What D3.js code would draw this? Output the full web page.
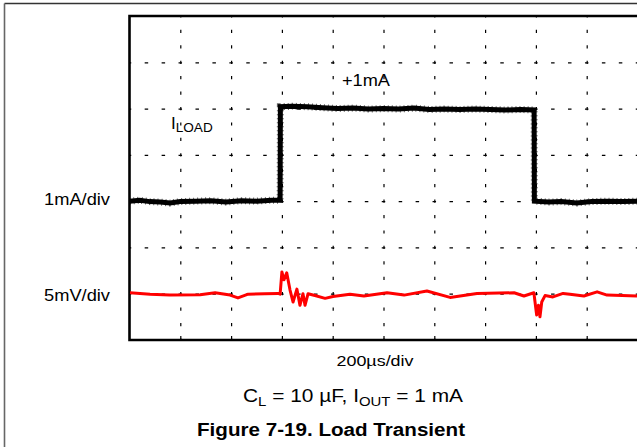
<!DOCTYPE html>
<html>
<head>
	<meta charset="utf-8">
	<title>Load Transient</title>
	<script src="https://d3js.org/d3.v7.min.js"></script>
	<style>
		body {
		    margin: 0;
		    background: #fff;
		    font-family: "Liberation Sans", Arial, sans-serif;
		}
		.grid line {
		    stroke: #000;
		    stroke-width: 1.2;
		}
		.grid path { display: none; }
	</style>
</head>
<body>
<script>
	// time axis, 200us/div, 10 divisions
	var timeTicks = [0, 200, 400, 600, 800, 1000, 1200, 1400, 1600, 1800, 2000];
	var divRows = [0, 1, 2, 3, 4, 5, 6, 7];

	// I_LOAD trace (us, mA step 0 -> +1mA)
	var loadTime = [0, 40, 80, 120, 160, 200, 260, 320, 380, 440, 500, 560, 593,
		594, 640, 700, 760, 820, 880, 940, 1000, 1060, 1120, 1180, 1240, 1300, 1360, 1420, 1480, 1540, 1593,
		1594, 1650, 1700, 1760, 1820, 1880, 1940, 2000];
	var loadValue = [0, 0.01, -0.005, -0.01, -0.02, -0.005, 0, 0.005, -0.01, 0.005, 0, 0.01, 0.01,
		1.02, 1.025, 1.02, 1.01, 1.0, 1.005, 0.995, 1.0, 0.995, 1.005, 0.99, 0.995, 0.99, 0.995, 0.99, 0.985, 0.99, 0.985,
		0, -0.01, -0.005, -0.02, -0.005, 0, -0.005, 0];

	// V_OUT trace (us, mV deviation, 5mV/div)
	var voutTime = [2, 81, 159, 278, 337, 396, 427, 467, 533, 585, 593, 600, 608, 619, 632, 644, 659, 671, 683, 691, 703,
		730, 770, 801, 868, 923, 1014, 1081, 1171, 1262, 1368, 1514, 1553, 1592, 1603, 1610, 1616, 1623, 1636,
		1667, 1707, 1734, 1789, 1841, 1880, 1998];
	var voutValue = [0.1, -0.05, -0.15, -0.1, 0.1, -0.15, -0.45, -0.05, 0, 0.03, -0.05, 2.35, 1.5, 2.25, 0.4, -0.9, 0.5, -1.25, 0, -1.25, 0,
		-0.2, -0.5, -0.3, -0.05, -0.25, 0.1, -0.15, 0.3, -0.4, 0.03, 0.1, -0.25, 0.1, -2.3, -1.25, -2.5, -0.9, -0.2,
		-0.35, 0.03, -0.05, -0.25, 0.2, -0.15, -0.25];

	var width = 637;
	var height = 447;
	var pLeft = 129.5, pRight = 637.5, pTop = 16, pBottom = 340;

	var svg = d3.select("body")
	    .append("svg")
	    .attr("width", width)
	    .attr("height", height);

	// outer page frame
	svg.append("line").attr("x1", 4.5).attr("y1", 3.5).attr("x2", width).attr("y2", 3.5)
	    .attr("stroke", "#333").attr("stroke-width", 1.3);
	svg.append("line").attr("x1", 4.5).attr("y1", 3.5).attr("x2", 4.5).attr("y2", height)
	    .attr("stroke", "#666").attr("stroke-width", 1.6);

	var x = d3.scaleLinear().domain([0, 2000]).range([pLeft, pRight]);
	var yDiv = d3.scaleLinear().domain([0, 7]).range([pBottom, pTop]);
	var yLoad = d3.scaleLinear().domain([0, 1]).range([yDiv(3), yDiv(5)]);
	var yVout = d3.scaleLinear().domain([-5, 5]).range([yDiv(0), yDiv(2)]);

	var divW = x(200) - x(0);
	var divH = yDiv(0) - yDiv(1);

	// vertical dashed grid
	svg.append("g")
	    .attr("class", "grid")
	    .attr("transform", "translate(0," + pTop + ")")
	    .call(d3.axisBottom(x).tickValues(timeTicks.slice(1, -1)).tickSize(pBottom - pTop).tickFormat(""))
	    .selectAll("line")
	    .attr("stroke-dasharray", "3.2," + (divH / 3 - 3.2))
	    .attr("stroke-dashoffset", 1.6);

	// horizontal dashed grid
	svg.append("g")
	    .attr("class", "grid")
	    .attr("transform", "translate(" + pLeft + ",0)")
	    .call(d3.axisRight(yDiv).tickValues(divRows.slice(1, -1)).tickSize(pRight - pLeft).tickFormat(""))
	    .selectAll("line")
	    .attr("stroke-dasharray", "3.5," + (divW / 3 - 3.5))
	    .attr("stroke-dashoffset", 1.75);

	// small ticks on bottom edge
	svg.append("g")
	    .attr("class", "grid")
	    .attr("transform", "translate(0," + pBottom + ")")
	    .call(d3.axisBottom(x).tickValues(timeTicks.slice(1, -1)).tickSize(-4).tickFormat(""));

	// plot frame
	svg.append("path")
	    .attr("d", "M" + pRight + "," + pTop + "H" + pLeft + "V" + pBottom + "H" + pRight)
	    .attr("fill", "none")
	    .attr("stroke", "#000")
	    .attr("stroke-width", 2.6);

	var loadLine = d3.line()
	    .x(function(d, i) { return x(loadTime[i]); })
	    .y(function(d) { return yLoad(d); });

	svg.append("path")
	    .attr("d", loadLine(loadValue))
	    .attr("fill", "none")
	    .attr("stroke", "#000")
	    .attr("stroke-width", 5)
	    .attr("stroke-linejoin", "miter");

	svg.append("path")
	    .attr("d", loadLine(loadValue))
	    .attr("fill", "none")
	    .attr("stroke", "#000")
	    .attr("stroke-width", 7)
	    .attr("stroke-dasharray", "1,3")
	    .attr("opacity", 0.6);

	var voutLine = d3.line()
	    .x(function(d, i) { return x(voutTime[i]); })
	    .y(function(d) { return yVout(d); });

	svg.append("path")
	    .attr("d", voutLine(voutValue))
	    .attr("fill", "none")
	    .attr("stroke", "#ff0000")
	    .attr("stroke-width", 3)
	    .attr("stroke-linejoin", "round");

	// labels
	function label(tx, ty, str, size, len, anchor, weight) {
	    return svg.append("text")
	        .attr("x", tx).attr("y", ty)
	        .attr("font-size", size)
	        .attr("font-weight", weight || "normal")
	        .attr("text-anchor", anchor || "start")
	        .attr("textLength", len)
	        .attr("lengthAdjust", "spacingAndGlyphs")
	        .text(str);
	}

	label(110, 205, "1mA/div", 16, 66, "end");
	label(110, 301, "5mV/div", 16, 66, "end");
	label(342, 86, "+1mA", 16, 48);

	var il = svg.append("text").attr("x", 171).attr("y", 129).attr("font-size", 17);
	il.append("tspan").text("I");
	il.append("tspan").attr("dy", 3).attr("font-size", 12.5).attr("textLength", 37)
	    .attr("lengthAdjust", "spacingAndGlyphs").text("LOAD");

	label(375, 366, "200\u00b5s/div", 14.5, 77, "middle");

	var cap = svg.append("text").attr("x", 243).attr("y", 401.5).attr("font-size", 17.5)
	    .attr("textLength", 220).attr("lengthAdjust", "spacingAndGlyphs");
	cap.append("tspan").text("C");
	cap.append("tspan").attr("dy", 4).attr("font-size", 12.5).text("L");
	cap.append("tspan").attr("dy", -4).text(" = 10 \u00b5F, I");
	cap.append("tspan").attr("dy", 4).attr("font-size", 12.5).text("OUT");
	cap.append("tspan").attr("dy", -4).text(" = 1 mA");

	label(331, 436, "Figure 7-19. Load Transient", 18, 268, "middle", "bold");
</script>
</body>
</html>
